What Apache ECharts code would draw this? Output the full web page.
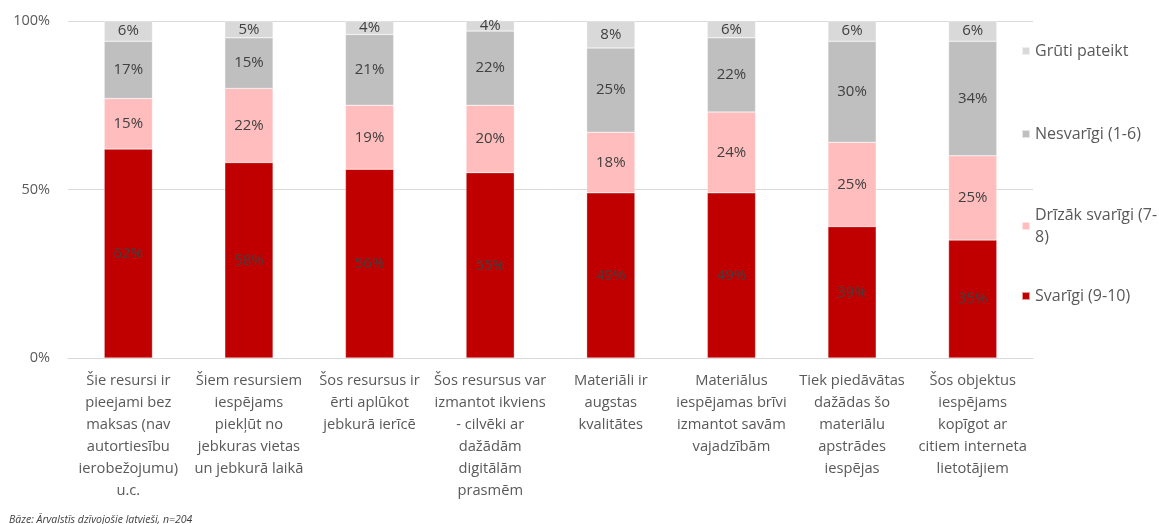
<!DOCTYPE html>
<html>
<head>
<meta charset="utf-8">
<script src="https://cdn.jsdelivr.net/npm/echarts@6/dist/echarts.min.js"></script>
<style>
  html, body { margin: 0; padding: 0; background: #fff; }
  #chart { width: 1159px; height: 524px; }
</style>
</head>
<body>
<div id="chart"></div>
<script>
// Category labels (line breaks as shown under each bar)
const categories = [
  "Šie resursi ir\npieejami bez\nmaksas (nav\nautortiesību\nierobežojumu)\nu.c.",
  "Šiem resursiem\niespējams\npiekļūt no\njebkuras vietas\nun jebkurā laikā",
  "Šos resursus ir\nērti aplūkot\njebkurā ierīcē",
  "Šos resursus var\nizmantot ikviens\n- cilvēki ar\ndažādām\ndigitālām\nprasmēm",
  "Materiāli ir\naugstas\nkvalitātes",
  "Materiālus\niespējamas brīvi\nizmantot savām\nvajadzībām",
  "Tiek piedāvātas\ndažādas šo\nmateriālu\napstrādes\niespējas",
  "Šos objektus\niespējams\nkopīgot ar\ncitiem interneta\nlietotājiem"
];

// Shares in percent
const svarigi      = [62, 58, 56, 55, 49, 49, 39, 35];
const drizakSvar   = [15, 22, 19, 20, 18, 24, 25, 25];
const nesvarigi    = [17, 15, 21, 22, 25, 22, 30, 34];
const grutiPateikt = [6, 5, 4, 4, 8, 6, 6, 6];

const seriesNames = ["Svarīgi (9-10)", "Drīzāk svarīgi (7-8)", "Nesvarīgi (1-6)", "Grūti pateikt"];
const seriesData = [svarigi, drizakSvar, nesvarigi, grutiPateikt];
const seriesColors = ["#C00000", "#FFBDBD", "#BFBFBF", "#D9D9D9"];

const yTicks = [0, 50, 100];

const FONT = "'Open Sans', 'Noto Sans', sans-serif";

const chart = echarts.init(document.getElementById('chart'), null, { renderer: 'canvas' });

const series = seriesNames.map((name, i) => ({
  name: name,
  type: 'bar',
  stack: 'total',
  barWidth: '40%',
  data: seriesData[i],
  itemStyle: { color: seriesColors[i], borderColor: 'rgba(255,255,255,0.6)', borderWidth: 0.5 },
  label: {
    show: true,
    position: 'inside',
    formatter: p => p.value + '%',
    color: '#404040',
    fontFamily: FONT,
    fontSize: 15
  }
}));

// One legend block per series, listed top to bottom on the right
const legendTops = [35, 118, 188, 280];
const legendOrder = [3, 2, 1, 0];
const legendLabels = {
  "Svarīgi (9-10)": "Svarīgi (9-10)",
  "Drīzāk svarīgi (7-8)": "Drīzāk svarīgi (7-\n8)",
  "Nesvarīgi (1-6)": "Nesvarīgi (1-6)",
  "Grūti pateikt": "Grūti pateikt"
};
const legends = legendOrder.map((idx, k) => {
  const name = seriesNames[idx];
  const twoLine = legendLabels[name].indexOf('\n') >= 0;
  return {
    data: [name],
    left: 1016,
    top: legendTops[k],
    orient: 'vertical',
    icon: 'rect',
    itemWidth: 8,
    itemHeight: 8,
    itemGap: 6,
    selectedMode: false,
    formatter: n => legendLabels[n],
    textStyle: {
      color: '#595959',
      fontFamily: FONT,
      fontSize: 16,
      lineHeight: 22,
      padding: twoLine ? [22, 0, 0, 0] : 0
    }
  };
});

chart.setOption({
  animation: false,
  backgroundColor: '#ffffff',
  grid: { left: 68, right: 126, top: 21, bottom: 166, containLabel: false },
  legend: legends,
  title: {
    text: 'Bāze: Ārvalstīs dzīvojošie latvieši, n=204',
    left: 4,
    top: 510,
    textStyle: { fontSize: 10.5, fontStyle: 'italic', fontWeight: 'normal', color: '#404040', fontFamily: FONT }
  },
  xAxis: {
    type: 'category',
    data: categories,
    axisLine: { show: true, lineStyle: { color: '#D9D9D9', width: 1 } },
    axisTick: { show: false },
    axisLabel: {
      interval: 0,
      margin: 12,
      color: '#595959',
      fontFamily: FONT,
      fontSize: 14.7,
      lineHeight: 22,
      align: 'center'
    }
  },
  yAxis: {
    type: 'value',
    min: 0,
    max: 100,
    interval: 50,
    axisLine: { show: false },
    axisTick: { show: false },
    splitLine: { show: true, lineStyle: { color: '#D9D9D9', width: 1 } },
    axisLabel: {
      margin: 18,
      color: '#595959',
      fontFamily: FONT,
      fontSize: 14.5,
      formatter: v => (yTicks.indexOf(v) >= 0 ? v + '%' : '')
    }
  },
  series: series
});
</script>
</body>
</html>
